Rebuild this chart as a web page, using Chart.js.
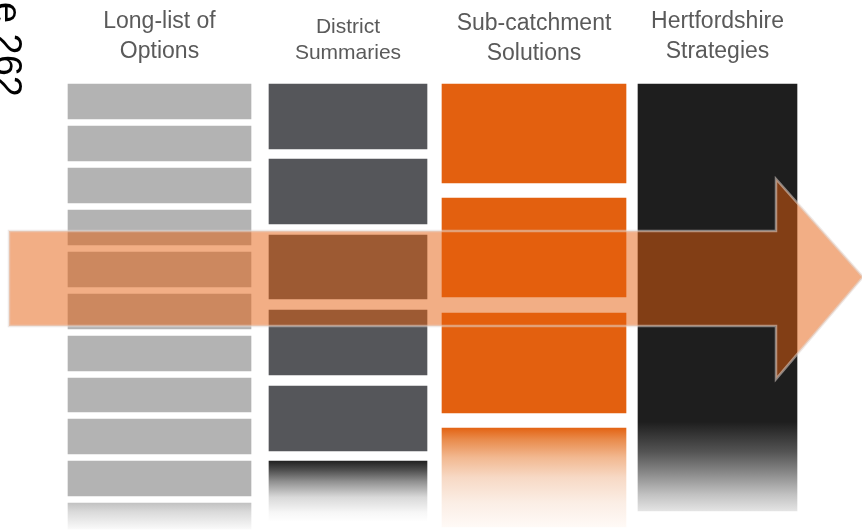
<!DOCTYPE html>
<html><head><meta charset="utf-8">
<script src="https://cdn.jsdelivr.net/npm/chart.js@4/dist/chart.umd.min.js"></script>
<style>html,body{margin:0;padding:0;background:#fff;overflow:hidden}#wrap{width:862px;height:530px}</style>
</head><body><div id="wrap"><canvas id="c" width="862" height="530"></canvas></div>
<script>
// ---- data (diagram units = depth down the page) ----
const stageLabels = [['Long-list of','Options'],['District','Summaries'],['Sub-catchment','Solutions'],['Hertfordshire','Strategies']];
const stageCenters = [159.5, 348, 534, 717.5];
const longListItems = [[83,120],[125,162],[167,204],[209,246],[251,288],[293,330],[335,372],[377,413],[418,455],[460,497],[502,530]];
const districtItems = [[83,150],[158,225],[234,300],[309,376],[385,452],[460,522]];
const subCatchmentItems = [[83,184],[197,298],[312,414],[427,528]];
const strategyItems = [[83,512]];
const pageLabel = 'Page 262';
const arrowSpan = {from: 9, to: 863, shaftTop: 231, shaftBottom: 326, headBase: 776, headTop: 179, headBottom: 379, tipY: 277};

// ---- styles ----
const stageWidths = [185, 160, 186, 161];
const stageColors = ['#b3b3b3', '#55565a', '#e3600f', '#1e1e1e'];
const fades = [
  [[0,'#bfbfbf'],[0.35,'#dadada'],[1,'#fbfbfb']],
  [[0,'#1c1c1c'],[0.15,'#4a4a4a'],[0.35,'#919191'],[0.6,'#d9d9d9'],[0.85,'#f7f7f7'],[1,'#ffffff']],
  [[0,'#e3600f'],[0.12,'#e98a4a'],[0.3,'#f2b890'],[0.5,'#f7d9c5'],[0.75,'#fbeee5'],[1,'#fffaf7']],
  [[0,'#1e1e1e'],[0.79,'#1e1e1e'],[0.86,'#545454'],[0.91,'#8a8a8a'],[0.96,'#c2c2c2'],[1,'#e6e6e6']]
];
const headerFonts = [23, 21, 23, 23];
const headerBaselines = [[28,58],[33,59],[30,60],[28,58]];

function fillFor(stage){
  return ctx => {
    const ds = ctx.dataset, i = ctx.dataIndex;
    const base = stageColors[stage];
    if (i === undefined || i !== ds.data.length - 1) return base;
    const chart = ctx.chart, ys = chart.scales.y;
    if (!ys) return base;
    const r = ds.data[i].y;
    const y0 = ys.getPixelForValue(r[0]), y1 = ys.getPixelForValue(r[1]);
    if (!isFinite(y0) || !isFinite(y1)) return base;
    const g = chart.ctx.createLinearGradient(0, y0, 0, y1);
    fades[stage].forEach(s => g.addColorStop(s[0], s[1]));
    return g;
  };
}

const allItems = [longListItems, districtItems, subCatchmentItems, strategyItems];
const datasets = allItems.map((items, s) => ({
  label: stageLabels[s].join(' '),
  data: items.map(r => ({x: stageCenters[s], y: r})),
  backgroundColor: fillFor(s),
  borderColor: s === 0 ? 'rgba(255,255,255,0.35)' : 'rgba(255,255,255,0.4)',
  borderWidth: 1,
  borderSkipped: false,
  barThickness: stageWidths[s],
  grouped: false
}));

const decor = {
  id: 'decor',
  afterDatasetsDraw(chart){
    const {ctx, scales:{x, y}} = chart;
    const a = arrowSpan;
    const P = (vx, vy) => [x.getPixelForValue(vx), y.getPixelForValue(vy)];
    const pts = [P(a.from,a.shaftTop),P(a.headBase,a.shaftTop),P(a.headBase,a.headTop),P(a.to,a.tipY),
                 P(a.headBase,a.headBottom),P(a.headBase,a.shaftBottom),P(a.from,a.shaftBottom)];
    ctx.save();
    ctx.beginPath();
    pts.forEach((p,i)=> i ? ctx.lineTo(p[0],p[1]) : ctx.moveTo(p[0],p[1]));
    ctx.closePath();
    ctx.fillStyle = 'rgba(229,93,11,0.5)';
    ctx.fill();
    ctx.lineJoin = 'miter';
    ctx.lineWidth = 2.5;
    ctx.strokeStyle = 'rgba(225,215,210,0.55)';
    ctx.stroke();
    ctx.restore();

    // headers
    ctx.save();
    ctx.fillStyle = '#5a5a5a';
    ctx.textAlign = 'center';
    ctx.textBaseline = 'alphabetic';
    stageLabels.forEach((lines, s) => {
      ctx.font = headerFonts[s] + 'px "Liberation Sans", Arial, sans-serif';
      lines.forEach((t, k) => ctx.fillText(t, x.getPixelForValue(stageCenters[s]), headerBaselines[s][k]));
    });
    ctx.restore();

    // rotated page label
    ctx.save();
    ctx.translate(-5, 97);
    ctx.rotate(Math.PI/2);
    ctx.font = '38px "Liberation Sans", Arial, sans-serif';
    ctx.fillStyle = '#000';
    ctx.textAlign = 'right';
    ctx.textBaseline = 'alphabetic';
    ctx.fillText(pageLabel, 0, 0);
    ctx.restore();
  }
};

new Chart(document.getElementById('c'), {
  type: 'bar',
  data: { datasets },
  options: {
    responsive: false,
    animation: false,
    layout: { padding: 0 },
    plugins: { legend: {display:false}, tooltip: {enabled:false}, title: {display:false} },
    scales: {
      x: { type:'linear', min:0, max:862, display:false, offset:false },
      y: { type:'linear', min:0, max:530, reverse:true, display:false }
    }
  },
  plugins: [decor]
});
</script></body></html>
